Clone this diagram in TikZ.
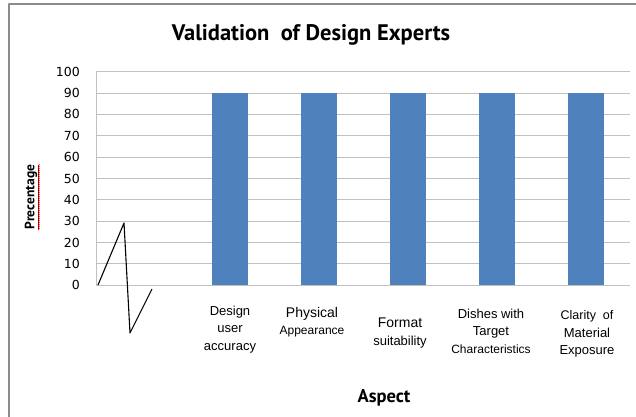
\documentclass[tikz,border=0pt]{standalone}
\usepackage{fontspec}
\setmainfont{Liberation Sans}
\newfontfamily\titlefont{PT Sans}
\newfontfamily\tickfont{DejaVu Sans}
\usetikzlibrary{decorations.pathmorphing}
\definecolor{barblue}{HTML}{4F81BD}
\definecolor{gridgray}{HTML}{C0C0C0}
\definecolor{framegray}{HTML}{8C8C8C}
\tikzset{
  gridline/.style={color=gridgray,line width=0.9pt},
  valbar/.style={fill=barblue,draw=none},
  ticklabel/.style={anchor=east,inner sep=0pt,font=\tickfont\fontsize{12.5}{14}\selectfont},
  catlabel/.style={align=center,inner sep=0pt,font=\fontsize{13}{17.5}\selectfont},
}

\begin{document}
\begin{tikzpicture}[line cap=butt,line join=round,x=1pt,y=-1pt]
			\useasboundingbox (0,0) rectangle (636,416);
			% chart frame
			\draw [color=framegray,line width=1.2pt] (9,430) -- (9,4) -- (650,4);
			\node (title) at (311,35) {\titlefont\bfseries\fontsize{22.5}{26}\selectfont Validation\ \ of Design Experts};
			% plot area, values upward
			\begin{scope}[shift={(96pt,-285.3pt)},y=2.136pt]
				\draw [gridline] (0,0) -- (534,0);
				\draw [gridline] (0,10) -- (534,10);
				\draw [gridline] (0,20) -- (534,20);
				\draw [gridline] (0,30) -- (534,30);
				\draw [gridline] (0,40) -- (534,40);
				\draw [gridline] (0,50) -- (534,50);
				\draw [gridline] (0,60) -- (534,60);
				\draw [gridline] (0,70) -- (534,70);
				\draw [gridline] (0,80) -- (534,80);
				\draw [gridline] (0,90) -- (534,90);
				\draw [gridline] (0,100) -- (534,100);
				\draw [gridline] (0,0) -- (0,100);
				\node [ticklabel] (t0) at (-16,0) {0};
				\node [ticklabel] (t10) at (-16,10) {10};
				\node [ticklabel] (t20) at (-16,20) {20};
				\node [ticklabel] (t30) at (-16,30) {30};
				\node [ticklabel] (t40) at (-16,40) {40};
				\node [ticklabel] (t50) at (-16,50) {50};
				\node [ticklabel] (t60) at (-16,60) {60};
				\node [ticklabel] (t70) at (-16,70) {70};
				\node [ticklabel] (t80) at (-16,80) {80};
				\node [ticklabel] (t90) at (-16,90) {90};
				\node [ticklabel] (t100) at (-16,100) {100};
				\fill [valbar] (115.5,0) rectangle (151.5,90);
				\fill [valbar] (204.5,0) rectangle (240.5,90);
				\fill [valbar] (293.5,0) rectangle (329.5,90);
				\fill [valbar] (382.5,0) rectangle (418.5,90);
				\fill [valbar] (471.5,0) rectangle (507.5,90);
			\end{scope}
			% hand drawn zigzag in the empty first slot
			\draw [line width=1.1pt] (98,285) -- (124,223) -- (130,333) -- (152,289);
			% category labels
			\node [catlabel] (design) at (230,329.5) {Design\\user\\accuracy};
			\node [catlabel] (physical) at (312,322) {\fontsize{14}{17.5}\selectfont Physical\\\fontsize{12}{17.5}\selectfont Appearance};
			\node [catlabel] (format) at (400,333) {\fontsize{14}{16}\selectfont Format\\suitability};
			\node [catlabel] (dishes) at (491,331) {Dishes with\\Target\\\fontsize{12}{17.5}\selectfont Characteristics};
			\node [catlabel] (clarity) at (587,334) {\fontsize{12.5}{18.5}\selectfont Clarity\ \ of\\Material\\Exposure};
			% axis titles
			\node (xtitle) at (384,398) {\titlefont\bfseries\fontsize{18.5}{22}\selectfont Aspect};
			\node [rotate=90,inner sep=1pt] (ytitle) at (32,197) {\titlefont\bfseries\fontsize{13.5}{16}\selectfont\underline{Precentage}};
			\draw [red,line width=0.5pt,decorate,decoration={snake,amplitude=0.6pt,segment length=2pt}] ([xshift=-1.5pt]ytitle.south west) -- ([xshift=-1.5pt]ytitle.south east);
		\end{tikzpicture}
\end{document}
